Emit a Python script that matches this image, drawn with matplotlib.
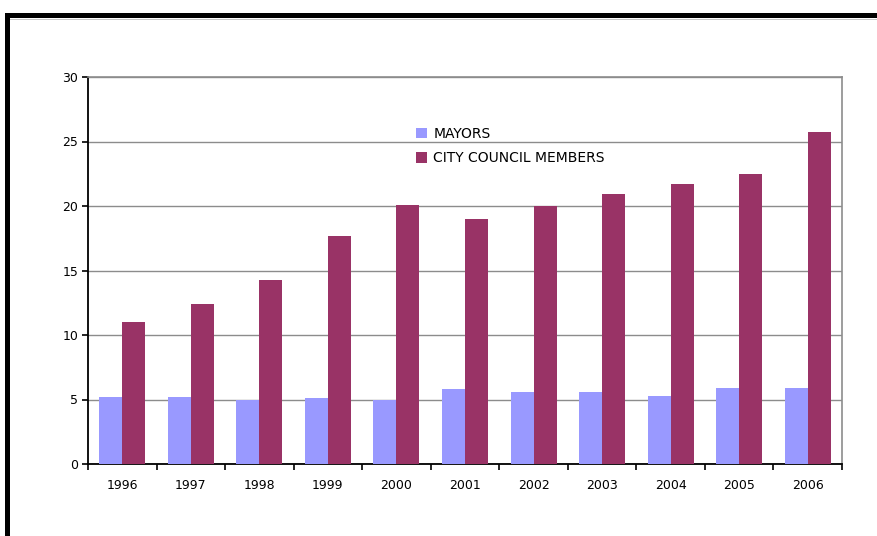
import matplotlib
matplotlib.use("Agg")
import matplotlib.pyplot as plt
from matplotlib.patches import Rectangle
import numpy as np

years = ["1996", "1997", "1998", "1999", "2000", "2001", "2002", "2003", "2004", "2005", "2006"]
mayors = [5.2, 5.2, 5.0, 5.1, 5.0, 5.8, 5.6, 5.6, 5.3, 5.9, 5.9]
council = [11.0, 12.4, 14.3, 17.7, 20.1, 19.0, 20.0, 20.9, 21.7, 22.5, 25.7]
series_names = ["MAYORS", "CITY COUNCIL MEMBERS"]
colors = ["#9999FF", "#993366"]
yticks = [0, 5, 10, 15, 20, 25, 30]

plt.rcParams['font.family'] = ['DejaVu Sans']

W, H = 877, 536
fig = plt.figure(figsize=(W / 100, H / 100), dpi=100)
fig.patch.set_facecolor("white")

def px(x0, y0, x1, y1):
    return [x0 / W, 1 - y1 / H, (x1 - x0) / W, (y1 - y0) / H]

l, b, w, h = px(88, 77, 842, 464)
ax = fig.add_axes([l, b, w, h])

x = np.arange(len(years))
bw = 0.335
ax.bar(x - bw / 2, mayors, bw, color=colors[0], label=series_names[0], zorder=3)
ax.bar(x + bw / 2, council, bw, color=colors[1], label=series_names[1], zorder=3)

ax.set_xlim(-0.5, len(years) - 0.5)
ax.set_ylim(0, 30)
ax.set_yticks(yticks)
ax.set_yticklabels([str(t) for t in yticks], fontsize=9)
ax.yaxis.grid(True, color="#8c8c8c", linewidth=1)
ax.set_axisbelow(True)

ax.set_xticks(x)
ax.set_xticklabels(years, fontsize=9)
ax.set_xticks(np.arange(-0.5, len(years) + 0.5, 1), minor=True)
ax.tick_params(axis="x", which="major", length=0, pad=11)
ax.tick_params(axis="x", which="minor", length=4, width=1.2, direction="out", color="black")
ax.tick_params(axis="y", which="major", length=4, width=1.2, pad=3, color="black")

for s in ["left", "bottom"]:
    ax.spines[s].set_color("black")
    ax.spines[s].set_linewidth(1.3)
for s in ["top", "right"]:
    ax.spines[s].set_color("#8c8c8c")
    ax.spines[s].set_linewidth(1.2)

leg = ax.legend(loc="upper left", bbox_to_anchor=(416 / W, 1 - 127 / H),
                bbox_transform=fig.transFigure, frameon=False, fontsize=10,
                handlelength=0.8, handleheight=0.8, handletextpad=0.45,
                labelspacing=0.75, borderpad=0, borderaxespad=0)

# outer frame
fig.add_artist(Rectangle((5 / W, 1 - 18 / H), 1 - 5 / W, 5 / H,
                         transform=fig.transFigure, color="black", lw=0))
fig.add_artist(Rectangle((5 / W, 0), 5 / W, 1 - 13 / H,
                         transform=fig.transFigure, color="black", lw=0))
fig.add_artist(Rectangle((10 / W, 1 - 20 / H), 1 - 10 / W, 1.2 / H,
                         transform=fig.transFigure, color="#c8c8c8", lw=0))

fig.savefig("out.png", dpi=100)
